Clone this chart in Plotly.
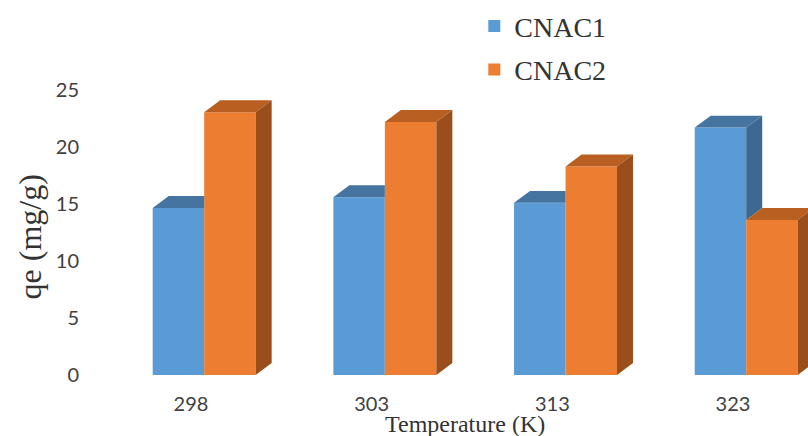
import plotly.graph_objects as go

# Adsorption capacity per temperature
temperatures = ["298", "303", "313", "323"]
cnac1 = [14.65, 15.6, 15.1, 21.7]
cnac2 = [23.05, 22.2, 18.3, 13.6]

# Face colours (front / top / side)
blue = ("#5B9BD5", "#4674A0", "#3D6990")
orange = ("#ED7D31", "#B95F22", "#9A4E1B")

# Bar geometry in data units
W = 0.285          # bar width
OFF1 = -0.212      # offset of the first bar from the category position
OFF2 = OFF1 + W    # second bar sits right next to the first
DX = 0.0885        # depth shift along x
DY = 1.05          # depth shift along y

xs = list(range(len(temperatures)))

fig = go.Figure()

fig.add_trace(go.Bar(x=xs, y=cnac1, width=W, offset=OFF1, name="CNAC1",
                     marker=dict(color=blue[0], line=dict(width=0)),
                     legendgroup="a", hoverinfo="skip"))
fig.add_trace(go.Bar(x=xs, y=cnac2, width=W, offset=OFF2, name="CNAC2",
                     marker=dict(color=orange[0], line=dict(width=0)),
                     legendgroup="b", hoverinfo="skip"))


def poly_trace(xp, yp, color):
    return go.Scatter(x=xp, y=yp, mode="lines", fill="toself", fillcolor=color,
                      line=dict(width=0, color=color), showlegend=False,
                      hoverinfo="skip")


top1x, top1y, side1x, side1y = [], [], [], []
top2x, top2y, side2x, side2y = [], [], [], []
for i, v1, v2 in zip(xs, cnac1, cnac2):
    x0 = i + OFF1
    x1 = x0 + W
    x2 = x1 + W
    # first bar: top face (clipped where the second bar hides it)
    if v2 >= v1:
        px = [x0, x1, x1, x0 + DX, x0]
        py = [v1, v1, v1 + DY, v1 + DY, v1]
    else:
        px = [x0, x1, x1 + DX, x0 + DX, x0]
        py = [v1, v1, v1 + DY, v1 + DY, v1]
        # visible part of the first bar's side face above the second bar
        side1x += [x1, x1, x1 + DX, x1 + DX, x1, None]
        side1y += [v2, v1, v1 + DY, v2 + DY, v2, None]
    top1x += px + [None]
    top1y += py + [None]
    # second bar: top and side faces
    top2x += [x1, x2, x2 + DX, x1 + DX, x1, None]
    top2y += [v2, v2, v2 + DY, v2 + DY, v2, None]
    side2x += [x2, x2, x2 + DX, x2 + DX, x2, None]
    side2y += [0, v2, v2 + DY, DY, 0, None]

fig.add_trace(poly_trace(top1x, top1y, blue[1]))
fig.add_trace(poly_trace(side1x, side1y, blue[2]))
fig.add_trace(poly_trace(top2x, top2y, orange[1]))
fig.add_trace(poly_trace(side2x, side2y, orange[2]))

tick_font = dict(family="Lato, 'Open Sans', sans-serif", size=20, color="#404040")
serif = "'Liberation Serif', 'Times New Roman', serif"

fig.update_layout(
    width=808, height=436,
    margin=dict(l=100, r=0, t=20, b=61, autoexpand=False),
    paper_bgcolor="white", plot_bgcolor="white",
    barmode="overlay",
    showlegend=True,
    legend=dict(xref="container", yref="container", x=0.587, y=0.997,
                xanchor="left", yanchor="top",
                font=dict(family=serif, size=28, color="#333333"),
                traceorder="grouped", tracegroupgap=4,
                bgcolor="rgba(0,0,0,0)"),
    xaxis=dict(range=[-0.5036, 3.415], tickvals=xs, ticktext=temperatures,
               showgrid=False, zeroline=False, showline=False,
               tickfont=tick_font, ticklabelstandoff=15, fixedrange=True),
    yaxis=dict(range=[0, 31.14], tickvals=[0, 5, 10, 15, 20, 25],
               showgrid=False, zeroline=False, showline=False,
               tickfont=tick_font, ticklabelstandoff=20, fixedrange=True),
    annotations=[
        dict(text="qe (mg/g)", xref="paper", yref="paper",
             x=-0.099, y=0.39, xanchor="center", yanchor="middle",
             textangle=-90, showarrow=False,
             font=dict(family=serif, size=32, color="#333333")),
        dict(text="Temperature (K)", xref="paper", yref="paper",
             x=0.516, y=-0.139, xanchor="center", yanchor="middle",
             showarrow=False,
             font=dict(family=serif, size=24, color="#333333")),
    ],
)

fig.write_html("out.html")
